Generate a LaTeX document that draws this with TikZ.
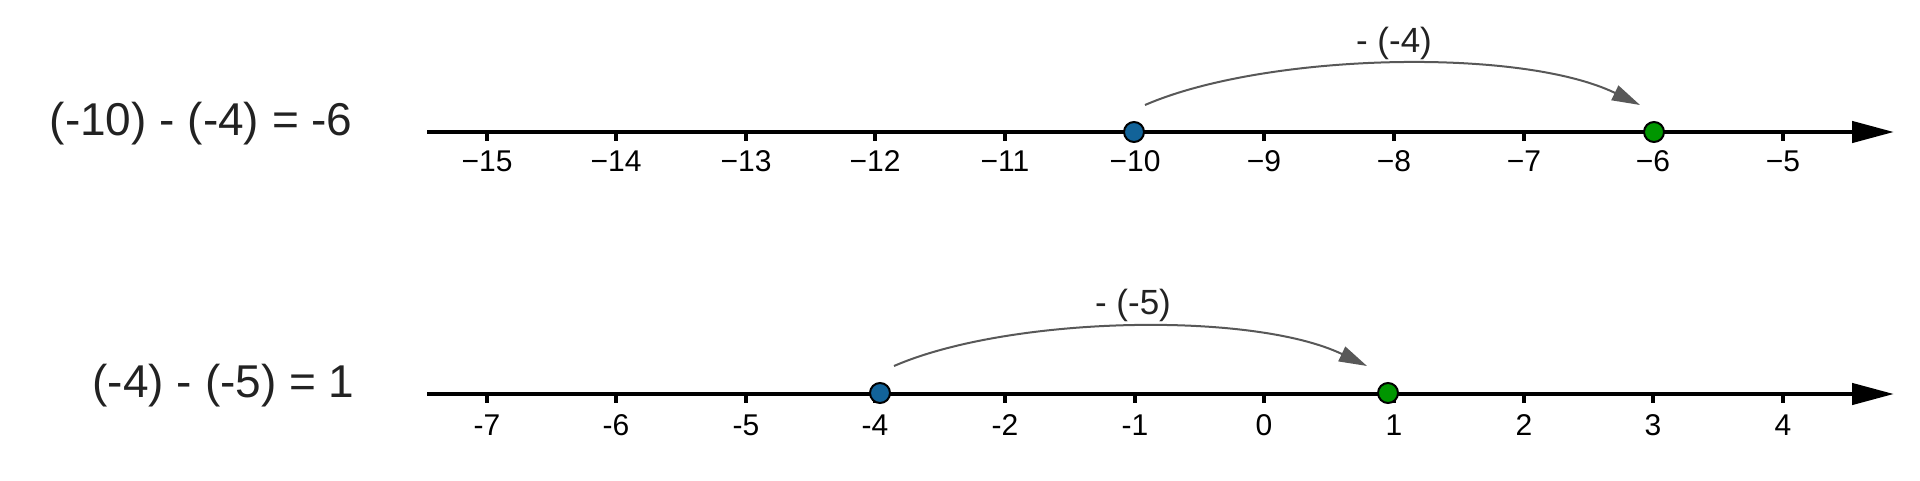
\documentclass[tikz,border=0pt]{standalone}
\usepackage{fontspec}
\setmainfont{Liberation Sans}
\usetikzlibrary{arrows.meta}
\definecolor{ptblue}{RGB}{18,99,153}
\definecolor{ptgreen}{RGB}{0,150,0}
\definecolor{jumpgray}{RGB}{88,88,88}
\definecolor{eqgray}{RGB}{34,34,34}

\begin{document}
\begin{tikzpicture}[x=.5pt,y=-.5pt,
  numline/.style={line width=2.25pt,-{Triangle[length=21pt,width=10.5pt]}},
  tickmark/.style={line width=1.6pt},
  ticklabel/.style={font=\fontsize{15pt}{18pt}\selectfont,anchor=base},
  eqn/.style={font=\fontsize{23pt}{28pt}\selectfont,text=eqgray,anchor=base east,inner sep=0pt},
  ptdot/.style={draw,circle,line width=1pt,inner sep=0pt,minimum size=10pt},
  jump/.style={line width=1pt,draw=jumpgray,-{Triangle[length=14pt,width=8pt]}},
  jumplabel/.style={font=\fontsize{17.5pt}{21pt}\selectfont,text=eqgray,anchor=base}]
\useasboundingbox (0,0) rectangle (1920,481);

% first line: (-10) - (-4)
\node (eqa) at (353,135) [eqn] {(-10) - (-4) = -6};
\draw[numline] (427,132) -- (1894,132);
\draw[tickmark]
(487,132) -- (487,141)
(616,132) -- (616,141)
(746,132) -- (746,141)
(875,132) -- (875,141)
(1005,132) -- (1005,141)
(1135,132) -- (1135,141)
(1264,132) -- (1264,141)
(1394,132) -- (1394,141)
(1524,132) -- (1524,141)
(1653,132) -- (1653,141)
(1783,132) -- (1783,141);
\node (ta0) at (487,171) [ticklabel] {−15};
\node (ta1) at (616,171) [ticklabel] {−14};
\node (ta2) at (746,171) [ticklabel] {−13};
\node (ta3) at (875,171) [ticklabel] {−12};
\node (ta4) at (1005,171) [ticklabel] {−11};
\node (ta5) at (1135,171) [ticklabel] {−10};
\node (ta6) at (1264,171) [ticklabel] {−9};
\node (ta7) at (1394,171) [ticklabel] {−8};
\node (ta8) at (1524,171) [ticklabel] {−7};
\node (ta9) at (1653,171) [ticklabel] {−6};
\node (ta10) at (1783,171) [ticklabel] {−5};

\node (a10) at (1134,132) [ptdot, fill=ptblue] {};
\node (a6) at (1654,132) [ptdot, fill=ptgreen] {};
\coordinate (sa) at (1145,105);
\coordinate (ea) at (1640,105);
\draw[jump] (sa) .. controls +(120,-52) and +(-120,-58) .. (ea);
\node (ja) at (1394,53) [jumplabel] {- (-4)};

% second line: (-4) - (-5)
\node (eqb) at (355,397) [eqn] {(-4) - (-5) = 1};
\draw[numline] (427,394) -- (1894,394);
\draw[tickmark]
(487,394) -- (487,403)
(616,394) -- (616,403)
(746,394) -- (746,403)
(875,394) -- (875,403)
(1005,394) -- (1005,403)
(1135,394) -- (1135,403)
(1264,394) -- (1264,403)
(1394,394) -- (1394,403)
(1524,394) -- (1524,403)
(1653,394) -- (1653,403)
(1783,394) -- (1783,403);
\node (tb0) at (487,435) [ticklabel] {-7};
\node (tb1) at (616,435) [ticklabel] {-6};
\node (tb2) at (746,435) [ticklabel] {-5};
\node (tb3) at (875,435) [ticklabel] {-4};
\node (tb4) at (1005,435) [ticklabel] {-2};
\node (tb5) at (1135,435) [ticklabel] {-1};
\node (tb6) at (1264,435) [ticklabel] {0};
\node (tb7) at (1394,435) [ticklabel] {1};
\node (tb8) at (1524,435) [ticklabel] {2};
\node (tb9) at (1653,435) [ticklabel] {3};
\node (tb10) at (1783,435) [ticklabel] {4};

\node (b4) at (880,393) [ptdot, fill=ptblue] {};
\node (b1) at (1388,393) [ptdot, fill=ptgreen] {};
\coordinate (sb) at (894,366);
\coordinate (eb) at (1367,366);
\draw[jump] (sb) .. controls +(115,-50) and +(-115,-55) .. (eb);
\node (jb) at (1133,314) [jumplabel] {- (-5)};
\end{tikzpicture}
\end{document}
